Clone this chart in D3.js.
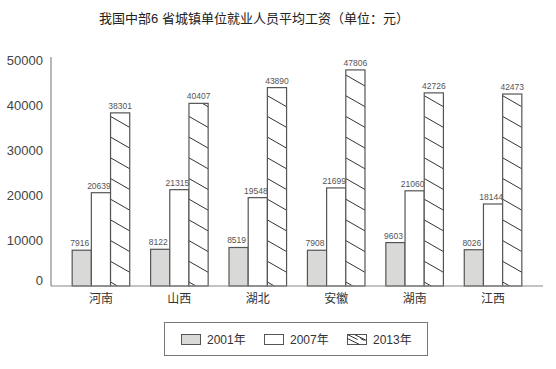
<!DOCTYPE html>
<html><head><meta charset="utf-8">
<script src="https://cdn.jsdelivr.net/npm/d3@7"></script>
<style>
body{margin:0;background:#fff;}
text{font-family:"Liberation Sans",Arial,"Noto Sans CJK SC",sans-serif;}
</style></head>
<body><svg id="c" width="556" height="369"></svg>
<script>
const title = "我国中部6 省城镇单位就业人员平均工资（单位：元）";
const categories = ["河南","山西","湖北","安徽","湖南","江西"];
const seriesNames = ["2001年","2007年","2013年"];
const v2001 = [7916, 8122, 8519, 7908, 9603, 8026];
const v2007 = [20639, 21315, 19548, 21699, 21060, 18144];
const v2013 = [38301, 40407, 43890, 47806, 42726, 42473];
const yTicks = [0, 10000, 20000, 30000, 40000, 50000];

const series = [v2001, v2007, v2013];
const svg = d3.select("#c");
const x0 = 51, x1 = 543, yBase = 286, yTop = 60;

const x = d3.scaleBand().domain(categories).range([x0, x1]).paddingInner(0.266).paddingOuter(0.27);
const xs = d3.scaleBand().domain(d3.range(3)).range([0, x.bandwidth()]);
const y = d3.scaleLinear().domain([0, 50000]).range([yBase, yTop]);

svg.append("text").attr("x", 254).attr("y", 23).attr("text-anchor", "middle")
  .attr("font-size", 13).attr("fill", "#222").text(title);

// y axis
const ya = svg.append("g").attr("transform", `translate(${x0},0)`)
  .call(d3.axisLeft(y).tickValues(yTicks).tickSize(0).tickPadding(8).tickFormat(d3.format("d")));
ya.select(".domain").attr("stroke", "#888").attr("stroke-width", 1.2).attr("d", `M0,${yBase}V${yTop - 3}`);
ya.selectAll("text").attr("font-size", 13).attr("fill", "#444")
  .attr("font-family", "Liberation Sans, Arial, sans-serif")
  .attr("dy", d => d === 0 ? "-0.15em" : "0.32em");

// bars
const defs = svg.append("defs");
const fills = ["#d9d9d7", "#ffffff", "#ffffff"];
const labels = [];
categories.forEach((c, ci) => {
  series.forEach((s, si) => {
    const bx = x(c) + xs(si), bw = xs.bandwidth(), by = y(s[ci]), bh = yBase - by;
    svg.append("rect").attr("x", bx).attr("y", by).attr("width", bw).attr("height", bh)
      .attr("fill", fills[si]);
    if (si === 2) {
      const id = "clip" + ci;
      defs.append("clipPath").attr("id", id).append("rect")
        .attr("x", bx).attr("y", by).attr("width", bw).attr("height", bh);
      const g = svg.append("g").attr("clip-path", `url(#${id})`);
      const step = 20.7, dy = 11;
      for (let yy = yBase - 4; yy > by - dy - step; yy -= step) {
        g.append("line").attr("x1", bx).attr("y1", yy).attr("x2", bx + bw).attr("y2", yy + dy)
          .attr("stroke", "#333").attr("stroke-width", 1);
      }
    }
    svg.append("rect").attr("x", bx).attr("y", by).attr("width", bw).attr("height", bh)
      .attr("fill", "none").attr("stroke", "#555").attr("stroke-width", 1.2);
    labels.push({x: bx + bw / 2 - (si === 2 ? 0 : 2), y: by - 4, t: s[ci]});
  });
});
svg.append("g").selectAll("text").data(labels).join("text")
  .attr("x", d => d.x).attr("y", d => d.y).attr("text-anchor", "middle")
  .attr("font-size", 8.5).attr("fill", "#555").text(d => d.t);

// x axis
const xa = svg.append("g").attr("transform", `translate(0,${yBase})`)
  .call(d3.axisBottom(x).tickSize(0).tickPadding(8));
xa.select(".domain").attr("stroke", "#888").attr("stroke-width", 1.2).attr("d", `M${x0},0H${x1}`);
xa.selectAll("text").attr("font-size", 12).attr("fill", "#333")
  .attr("font-family", "Noto Sans CJK SC, sans-serif");

// legend
const lg = svg.append("g");
lg.append("rect").attr("x", 164.5).attr("y", 322.5).attr("width", 263).attr("height", 33)
  .attr("fill", "#fff").attr("stroke", "#777").attr("stroke-width", 1);
const lx = [181, 264, 347];
seriesNames.forEach((n, i) => {
  const sx = lx[i], sy = 334.5;
  lg.append("rect").attr("x", sx + 0.5).attr("y", sy).attr("width", 19).attr("height", 10)
    .attr("fill", fills[i]).attr("stroke", "#555").attr("stroke-width", 1);
  if (i === 2) {
    [[0, 0, 10, 5], [0, 4, 12, 10], [7, 0, 19, 6], [13, 4, 17, 6]].forEach(l => {
      lg.append("line").attr("x1", sx + 0.5 + l[0]).attr("y1", sy + l[1])
        .attr("x2", sx + 0.5 + l[2]).attr("y2", sy + l[3]).attr("stroke", "#333");
    });
  }
  lg.append("text").attr("x", sx + 26).attr("y", sy + 9.5).attr("font-size", 12).attr("fill", "#333").text(n);
});
</script></body></html>
